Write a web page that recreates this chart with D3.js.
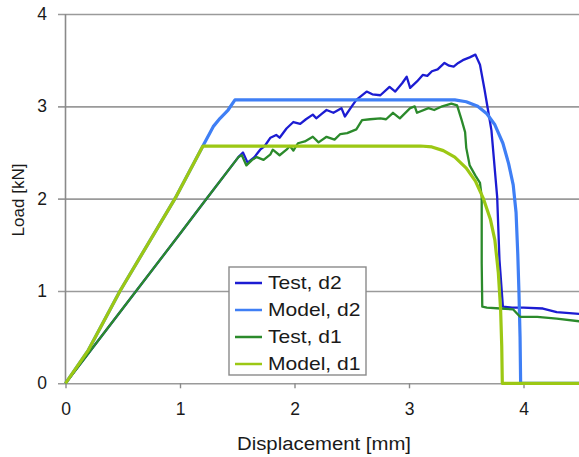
<!DOCTYPE html>
<html>
<head>
<meta charset="utf-8">
<script src="https://cdn.jsdelivr.net/npm/d3@7"></script>
<style>
  html, body { margin: 0; padding: 0; background: #fff; }
  svg { display: block; font-family: "Liberation Sans", Arial, sans-serif; }
</style>
</head>
<body>
<svg id="chart" width="579" height="457"></svg>
<script>
// Load–displacement curves: measured (Test) vs. simulated (Model) for two specimens
const seriesNames = ["Test, d2", "Model, d2", "Test, d1", "Model, d1"];
const seriesColors = ["#1c1cd2", "#3f7ff5", "#2b8a2b", "#9cc814"];

const xTicks = [0, 1, 2, 3, 4];
const yTicks = [0, 1, 2, 3, 4];

// [displacement mm, load kN]
const testD2 = [
  [0,0],[0.5,0.81],[1.0,1.62],[1.22,1.98],[1.51,2.45],[1.55,2.50],[1.59,2.39],[1.65,2.45],
  [1.70,2.53],[1.74,2.57],[1.79,2.66],[1.84,2.69],[1.87,2.66],[1.93,2.76],[1.99,2.83],
  [2.05,2.81],[2.10,2.86],[2.16,2.91],[2.19,2.87],[2.24,2.92],[2.28,2.96],[2.34,2.93],
  [2.41,2.98],[2.44,2.89],[2.50,3.00],[2.54,3.07],[2.63,3.16],[2.68,3.13],[2.75,3.12],
  [2.83,3.21],[2.88,3.16],[2.94,3.25],[2.98,3.32],[3.01,3.20],[3.07,3.27],[3.12,3.34],
  [3.16,3.33],[3.20,3.38],[3.25,3.40],[3.31,3.47],[3.35,3.44],[3.39,3.43],[3.43,3.47],
  [3.47,3.50],[3.53,3.53],[3.58,3.56],[3.62,3.45],[3.66,3.18],[3.69,2.96],[3.72,2.74],
  [3.77,2.02],[3.79,1.34],[3.81,1.00],[3.82,0.83],[3.90,0.82],[4.00,0.82],[4.17,0.81],
  [4.29,0.77],[4.50,0.75]
];
const modelD2 = [
  [0,0],[0.2,0.36],[0.476,1.0],[0.956,2.0],[1.2,2.57],[1.29,2.78],[1.35,2.87],[1.42,2.96],
  [1.48,3.07],[3.40,3.07],[3.50,3.05],[3.60,3.00],[3.68,2.92],[3.75,2.80],[3.82,2.60],
  [3.87,2.38],[3.91,2.15],[3.935,1.85],[3.95,1.40],[3.96,1.00],[3.97,0.50],[3.975,0],[4.50,0]
];
const testD1 = [
  [0,0],[0.5,0.81],[1.0,1.62],[1.22,1.98],[1.51,2.45],[1.54,2.47],[1.58,2.36],[1.63,2.42],
  [1.67,2.45],[1.73,2.42],[1.79,2.48],[1.81,2.53],[1.87,2.47],[1.93,2.53],[1.96,2.57],
  [1.99,2.52],[2.03,2.60],[2.09,2.62],[2.16,2.67],[2.21,2.61],[2.28,2.67],[2.35,2.64],
  [2.40,2.70],[2.46,2.71],[2.54,2.75],[2.59,2.85],[2.66,2.86],[2.75,2.87],[2.80,2.86],
  [2.86,2.93],[2.92,2.87],[3.01,2.98],[3.05,3.00],[3.07,2.93],[3.17,2.98],[3.22,2.96],
  [3.29,3.00],[3.37,3.03],[3.42,3.01],[3.46,2.85],[3.49,2.72],[3.50,2.55],[3.53,2.36],
  [3.58,2.25],[3.62,2.17],[3.635,2.02],[3.635,1.30],[3.64,0.83],[3.68,0.82],[3.80,0.81],
  [3.91,0.80],[3.97,0.72],[4.12,0.72],[4.29,0.70],[4.50,0.67]
];
const modelD1 = [
  [0,0],[0.2,0.36],[0.476,1.0],[0.956,2.0],[1.2,2.57],[3.10,2.57],[3.20,2.56],[3.30,2.52],
  [3.40,2.45],[3.50,2.33],[3.58,2.19],[3.65,2.00],[3.71,1.78],[3.75,1.55],[3.78,1.20],
  [3.80,0.80],[3.81,0.40],[3.815,0],[4.50,0]
];
const allSeries = [testD2, modelD2, testD1, modelD1];
const lineWidths = [2.3, 3.2, 2.3, 3.2];

const W = 579, H = 457;
const svg = d3.select("#chart");

const x = d3.scaleLinear().domain([0, 4.5]).range([65.5, 65.5 + 4.5 * 114.5]);
const y = d3.scaleLinear().domain([0, 4]).range([383.3, 14]);

// horizontal gridlines with short ticks to the left of the axis
const yAxis = d3.axisLeft(y).tickValues(yTicks).tickSize(-(W - 58)).tickPadding(11)
  .tickFormat(d3.format("d"));
const gy = svg.append("g").attr("transform", `translate(58,0)`).call(yAxis);
gy.select(".domain").remove();
gy.selectAll(".tick line").attr("stroke", "#9a9a9a").attr("stroke-width", 1.6);
gy.selectAll(".tick text").attr("fill", "#1a1a1a").attr("font-size", 17.5)
  .attr("font-family", "Liberation Sans, Arial, sans-serif");

// vertical axis line
svg.append("line").attr("x1", x(0)).attr("x2", x(0)).attr("y1", y(4)).attr("y2", y(0))
  .attr("stroke", "#8a8a8a").attr("stroke-width", 1.6);

// x axis ticks below the baseline
const xAxis = d3.axisBottom(x).tickValues(xTicks).tickSize(5).tickPadding(14)
  .tickFormat(d3.format("d"));
const gx = svg.append("g").attr("transform", `translate(0,${y(0)})`).call(xAxis);
gx.select(".domain").remove();
gx.selectAll(".tick line").attr("stroke", "#8a8a8a").attr("stroke-width", 1.4);
gx.selectAll(".tick text").attr("fill", "#1a1a1a").attr("font-size", 17.5)
  .attr("font-family", "Liberation Sans, Arial, sans-serif");

// curves
const line = d3.line().x(d => x(d[0])).y(d => y(d[1]));
svg.append("defs").append("clipPath").attr("id", "plotClip")
  .append("rect").attr("x", 0).attr("y", 0).attr("width", W).attr("height", H);
const curves = svg.append("g").attr("clip-path", "url(#plotClip)");
allSeries.forEach((s, i) => {
  curves.append("path").datum(s).attr("d", line)
    .attr("fill", "none").attr("stroke", seriesColors[i])
    .attr("stroke-width", lineWidths[i]).attr("stroke-linejoin", "round");
});

// axis titles
svg.append("text").attr("x", 324).attr("y", 450).attr("text-anchor", "middle")
  .attr("font-size", 18).attr("fill", "#1a1a1a")
  .attr("textLength", 174).attr("lengthAdjust", "spacingAndGlyphs")
  .text("Displacement [mm]");
svg.append("text").attr("transform", "translate(24,200) rotate(-90)")
  .attr("text-anchor", "middle").attr("font-size", 17).attr("fill", "#1a1a1a").text("Load [kN]");

// legend
const lg = svg.append("g").attr("transform", "translate(229,267)");
lg.append("rect").attr("width", 137).attr("height", 108)
  .attr("fill", "#fff").attr("stroke", "#8a8a8a").attr("stroke-width", 1.4);
seriesNames.forEach((name, i) => {
  const cy = 16 + i * 27;
  lg.append("line").attr("x1", 6).attr("x2", 33).attr("y1", cy).attr("y2", cy)
    .attr("stroke", seriesColors[i]).attr("stroke-width", 2.5);
  lg.append("text").attr("transform", `translate(39,${cy}) scale(1.17,1)`)
    .attr("dy", "0.36em").attr("font-size", 18).attr("fill", "#1a1a1a").text(name);
});
</script>
</body>
</html>
